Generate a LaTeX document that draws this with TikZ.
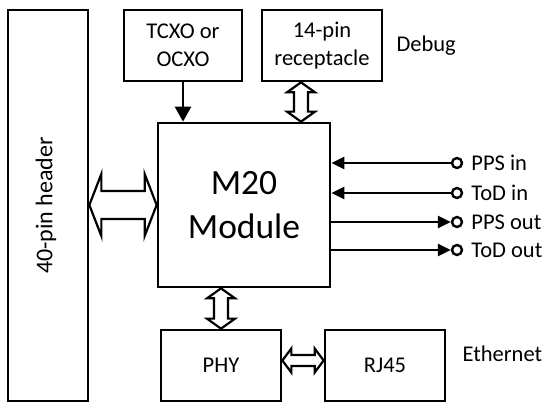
\documentclass[tikz,border=0pt]{standalone}
\usepackage{fontspec}
\setmainfont{Carlito}
\usetikzlibrary{positioning,calc,arrows.meta}

\tikzset{
  blk/.style={draw, line width=2.7pt, align=center, inner sep=0pt,
    font=\fontsize{22.5}{28}\selectfont},
  lbl/.style={inner sep=0pt, font=\fontsize{22.5}{26}\selectfont},
  port/.style={circle, draw, line width=2.4pt, minimum size=10pt, inner sep=0pt},
  sig/.style={line width=2.6pt, -{Triangle[length=13pt,width=12pt]}},
  % hollow double arrows: #1 head length, #2 head half width, #3 shaft half width
  hfat/.style n args={3}{line width=2.2pt, to path={
      let \p1=(\tikztostart), \p2=(\tikztotarget) in
      (\p1) -- ({\x1+#1pt},{\y1+#2pt}) -- ({\x1+#1pt},{\y1+#3pt})
      -- ({\x2-#1pt},{\y1+#3pt}) -- ({\x2-#1pt},{\y1+#2pt}) -- (\x2,\y1)
      -- ({\x2-#1pt},{\y1-#2pt}) -- ({\x2-#1pt},{\y1-#3pt})
      -- ({\x1+#1pt},{\y1-#3pt}) -- ({\x1+#1pt},{\y1-#2pt}) -- cycle}},
  vfat/.style n args={3}{line width=2.2pt, to path={
      let \p1=(\tikztostart), \p2=(\tikztotarget) in
      (\p1) -- ({\x1+#2pt},{\y1-#1pt}) -- ({\x1+#3pt},{\y1-#1pt})
      -- ({\x1+#3pt},{\y2+#1pt}) -- ({\x1+#2pt},{\y2+#1pt}) -- (\x1,\y2)
      -- ({\x1-#2pt},{\y2+#1pt}) -- ({\x1-#3pt},{\y2+#1pt})
      -- ({\x1-#3pt},{\y1-#1pt}) -- ({\x1-#2pt},{\y1-#1pt}) -- cycle}}
}

\begin{document}
\begin{tikzpicture}[x=1pt,y=-1pt]
  \useasboundingbox (0,0) rectangle (544,403);

  % boxes
  \node[blk, minimum width=80, minimum height=391] (hdr) at (48,205.5) {};
  \node[lbl, rotate=90, font=\fontsize{24}{28}\selectfont] (hdrtxt)
    at ([xshift=-2]hdr.center) {40-pin header};
  \node[blk, minimum width=118, minimum height=71] (tcxo) at (183,45.5)
    {TCXO or\\OCXO};
  \node[blk, minimum width=120, minimum height=71] (rcpt) at (322,45.5)
    {14-pin\\receptacle};
  \node[blk, minimum width=172, minimum height=164,
    font=\fontsize{35.5}{44}\selectfont] (m20) at (244,205) {M20\\Module};
  \node[blk, minimum width=120, minimum height=71] (phy) at (221,365.5) {PHY};
  \node[blk, minimum width=120, minimum height=71] (rj45) at (385,365.5) {RJ45};

  \node[lbl, right=13pt of rcpt] (dbg) {Debug};
  \node[lbl, anchor=west] (eth) at ([xshift=16, yshift=12]rj45.east) {Ethernet};

  % clock and buses
  \draw[line width=2.6pt, -{Triangle[length=15pt,width=16pt]}]
    (tcxo) -- (tcxo |- m20.north);
  \draw[hfat={12}{31}{14}] (hdr.east |- m20.west) to (m20.west);
  \draw[vfat={10}{14}{7}] ([xshift=-21]rcpt.south) to
    ([xshift=-21]rcpt.south |- m20.north);
  \draw[vfat={10}{14}{7}] (phy.north |- m20.south) to (phy.north);
  \draw[hfat={9}{12}{5.5}] ([yshift=5]phy.east) to ([yshift=5]rj45.west);

  % timing ports
  \foreach \name/\yy/\txt in {ppsin/163/PPS in, todin/193/ToD in,
    ppsout/222/PPS out, todout/250/ToD out} {
    \node[port] (\name) at (457,\yy) {};
    \node[lbl, right=8pt of \name] (\name-t) {\txt};
  }
  \foreach \name in {ppsin, todin} \draw[sig] (\name) -- (m20.east |- \name);
  \foreach \name in {ppsout, todout} \draw[sig] (m20.east |- \name) -- (\name);
\end{tikzpicture}
\end{document}
